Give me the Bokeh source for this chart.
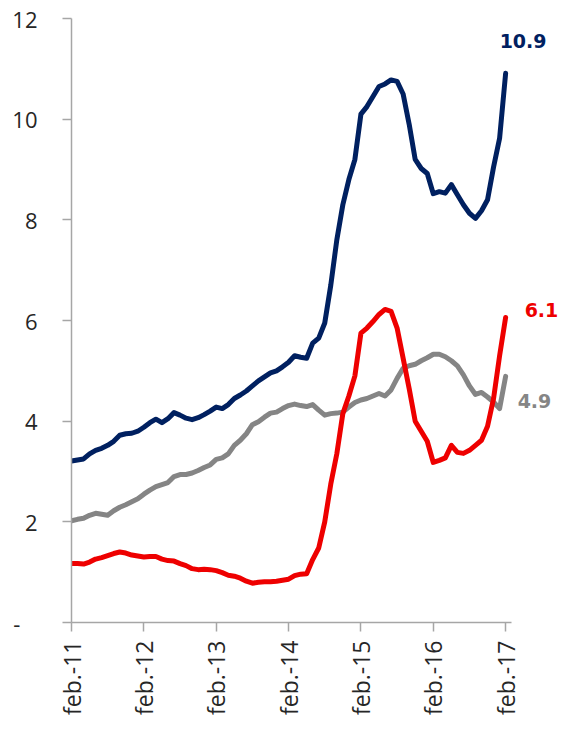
import math
from bokeh.plotting import figure
from bokeh.models import FixedTicker, Label, Range1d
from bokeh.embed import file_html
from bokeh.resources import INLINE

# Monthly observations, feb. 2011 .. feb. 2017 (73 months)
months = list(range(73))

blue_series = [
    3.21, 3.23, 3.25, 3.35, 3.42, 3.46, 3.52, 3.60, 3.72, 3.75,
    3.76, 3.80, 3.88, 3.97, 4.04, 3.97, 4.05, 4.17, 4.12, 4.06,
    4.03, 4.07, 4.13, 4.20, 4.28, 4.25, 4.33, 4.45, 4.52, 4.60,
    4.70, 4.80, 4.88, 4.96, 5.00, 5.08, 5.17, 5.30, 5.27, 5.25,
    5.55, 5.65, 5.95, 6.70, 7.60, 8.30, 8.80, 9.20, 10.10, 10.25,
    10.45, 10.65, 10.70, 10.78, 10.75, 10.50, 9.90, 9.20, 9.02, 8.92,
    8.52, 8.56, 8.53, 8.70, 8.50, 8.30, 8.13, 8.03, 8.18, 8.40,
    9.05, 9.62, 10.91,
]

gray_series = [
    2.02, 2.05, 2.07, 2.13, 2.17, 2.15, 2.13, 2.22, 2.29, 2.34,
    2.40, 2.46, 2.55, 2.63, 2.70, 2.74, 2.78, 2.90, 2.94, 2.94,
    2.97, 3.02, 3.08, 3.13, 3.24, 3.27, 3.35, 3.52, 3.62, 3.75,
    3.93, 3.99, 4.08, 4.16, 4.18, 4.25, 4.31, 4.34, 4.31, 4.29,
    4.33, 4.22, 4.12, 4.15, 4.16, 4.18, 4.28, 4.37, 4.42, 4.45,
    4.50, 4.55, 4.50, 4.62, 4.85, 5.05, 5.10, 5.13, 5.20, 5.26,
    5.33, 5.33, 5.28, 5.20, 5.10, 4.92, 4.70, 4.53, 4.57, 4.48,
    4.38, 4.25, 4.89,
]

red_series = [
    1.17, 1.17, 1.16, 1.20, 1.26, 1.29, 1.33, 1.37, 1.40, 1.38,
    1.34, 1.32, 1.30, 1.31, 1.31, 1.26, 1.23, 1.22, 1.17, 1.13,
    1.07, 1.05, 1.06, 1.05, 1.03, 0.99, 0.94, 0.92, 0.88, 0.82,
    0.78, 0.80, 0.81, 0.81, 0.82, 0.84, 0.86, 0.93, 0.96, 0.97,
    1.25, 1.48, 2.00, 2.75, 3.35, 4.15, 4.50, 4.90, 5.75, 5.85,
    5.98, 6.12, 6.22, 6.18, 5.85, 5.25, 4.65, 4.00, 3.80, 3.60,
    3.18, 3.22, 3.27, 3.52, 3.38, 3.36, 3.42, 3.52, 3.62, 3.90,
    4.45, 5.30, 6.06,
]

x_tick_pos = [0, 12, 24, 36, 48, 60, 72]
x_tick_labels = ["feb.-11", "feb.-12", "feb.-13", "feb.-14", "feb.-15", "feb.-16", "feb.-17"]
y_tick_pos = [0, 2, 4, 6, 8, 10, 12]
y_tick_labels = ["-\u00a0\u00a0\u00a0", "2", "4", "6", "8", "10", "12"]

end_labels = ["10.9", "6.1", "4.9"]

BLUE = "#002060"
RED = "#EE0000"
GRAY = "#858585"
AXIS = "#A6A6A6"
TXT = "#262626"

p = figure(width=560, height=722, output_backend="svg", toolbar_location=None,
           x_range=Range1d(0, 81.1), y_range=Range1d(0, 12),
           min_border_left=71, min_border_right=0, min_border_top=18, min_border_bottom=100)
p.outline_line_color = None
p.xgrid.grid_line_color = None
p.ygrid.grid_line_color = None
p.background_fill_color = "white"
p.border_fill_color = "white"

for ax in (p.xaxis[0], p.yaxis[0]):
    ax.axis_line_color = AXIS
    ax.axis_line_width = 1.5
    ax.major_tick_line_color = AXIS
    ax.major_tick_line_width = 1.5
    ax.major_tick_in = 0
    ax.major_tick_out = 9
    ax.minor_tick_line_color = None
    ax.major_label_text_color = TXT
    ax.major_label_text_font = "Open Sans"

p.xaxis.ticker = FixedTicker(ticks=x_tick_pos)
p.xaxis.bounds = (0, 73)
p.xaxis.major_label_overrides = {k: v for k, v in zip(x_tick_pos, x_tick_labels)}
p.xaxis.major_label_orientation = math.pi / 2
p.xaxis.major_label_text_font_size = "23px"
p.xaxis.major_label_standoff = 9

p.yaxis.ticker = FixedTicker(ticks=y_tick_pos)
p.yaxis.major_label_overrides = {k: v for k, v in zip(y_tick_pos, y_tick_labels)}
p.yaxis.major_label_text_font_size = "22px"
p.yaxis.major_label_standoff = 25

lw = 5
p.line(months, blue_series, line_color=BLUE, line_width=lw, line_join="round", line_cap="round")
p.line(months, gray_series, line_color=GRAY, line_width=lw, line_join="round", line_cap="round")
p.line(months, red_series, line_color=RED, line_width=lw, line_join="round", line_cap="round")

last = months[-1]
specs = [
    (blue_series[-1], end_labels[0], BLUE, -6, 32),
    (red_series[-1], end_labels[1], RED, 19, 7),
    (gray_series[-1], end_labels[2], GRAY, 12, -25),
]
for yv, txt, col, dx, dy in specs:
    p.add_layout(Label(x=last, y=yv, text=txt, x_offset=dx, y_offset=dy,
                       text_align="left", text_baseline="middle",
                       text_font="DejaVu Sans", text_font_style="bold",
                       text_font_size="19px", text_color=col))

open("out.html", "w").write(file_html(p, INLINE))
